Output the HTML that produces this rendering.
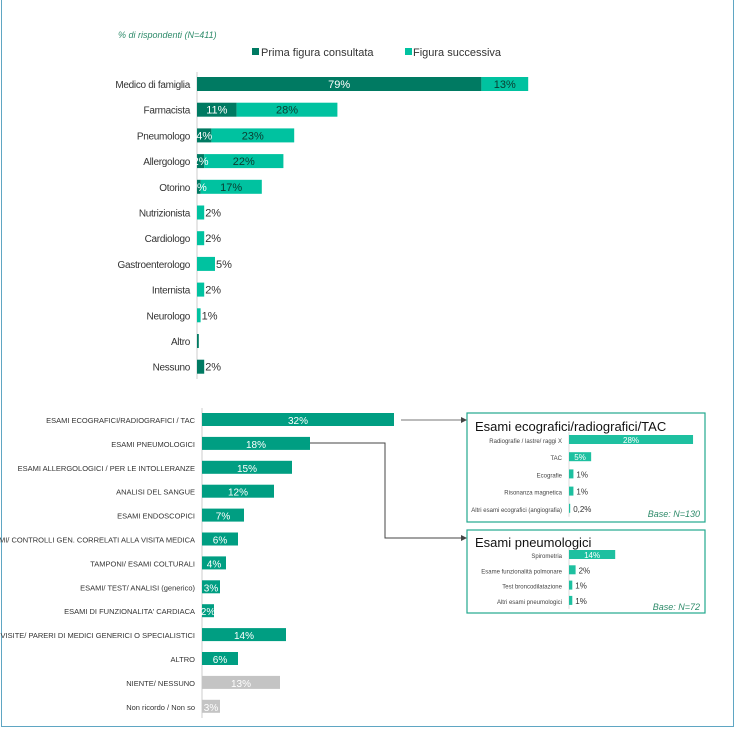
<!DOCTYPE html>
<html><head><meta charset="utf-8"><style>
body{margin:0;background:#fff;}
#wrap{position:relative;width:737px;height:730px;overflow:hidden;font-family:"Liberation Sans",sans-serif;}
#frame{position:absolute;left:1px;top:-2px;width:733px;height:729px;border:1.5px solid #5fa6c3;border-top:none;box-sizing:border-box;}
text{font-family:"Liberation Sans",sans-serif;}
</style></head><body>
<div id="wrap">
<div id="frame"></div>
<svg id="svg" width="737" height="730" style="position:absolute;left:0;top:0">
<text x="118" y="38" font-size="9" font-style="italic" fill="#2e8b6a">% di rispondenti (N=411)</text>
<rect x="252" y="48" width="7" height="7" fill="#007a62"/>
<text x="261" y="56" font-size="11" fill="#333">Prima figura consultata</text>
<rect x="405" y="48" width="7" height="7" fill="#00c2a0"/>
<text x="413" y="56" font-size="11" fill="#333">Figura successiva</text>
<line x1="197" y1="72" x2="197" y2="379" stroke="#ccc"/>
<line x1="202" y1="408" x2="202" y2="718" stroke="#ccc"/>
<rect x="467" y="413" width="238" height="109" fill="#fff" stroke="#22a88e" stroke-width="1.2"/>
<text x="475" y="431" font-size="13" fill="#111">Esami ecografici/radiografici/TAC</text>
<text x="700" y="517" font-size="9" font-style="italic" fill="#2e8b6a" text-anchor="end">Base: N=130</text>
<rect x="467" y="530" width="238" height="83" fill="#fff" stroke="#22a88e" stroke-width="1.2"/>
<text x="475" y="547" font-size="13" fill="#111">Esami pneumologici</text>
<text x="700" y="610" font-size="9" font-style="italic" fill="#2e8b6a" text-anchor="end">Base: N=72</text>
<defs><marker id="arr" markerWidth="6" markerHeight="6" refX="5" refY="3" orient="auto"><path d="M0,0 L6,3 L0,6 z" fill="#444"/></marker></defs>
<line x1="401" y1="420" x2="466" y2="420" stroke="#777" marker-end="url(#arr)"/>
<polyline points="310,443 385,443 385,538 466,538" fill="none" stroke="#444" marker-end="url(#arr)"/>
</svg>
</div>
<script>
const topCats=["Medico di famiglia","Farmacista","Pneumologo","Allergologo","Otorino","Nutrizionista","Cardiologo","Gastroenterologo","Internista","Neurologo","Altro","Nessuno"];
const topFirst=[79,11,4,2,1,0,0,0,0,0,0.5,2];
const topNext=[13,28,23,22,17,2,2,5,2,1,0,0];
const topFirstLbl=["79%","11%","4%","2%","1%","","","","","","",""];
const topNextLbl=["13%","28%","23%","22%","17%","2%","2%","5%","2%","1%","","2%"];
const botCats=["ESAMI ECOGRAFICI/RADIOGRAFICI / TAC","ESAMI PNEUMOLOGICI","ESAMI ALLERGOLOGICI / PER LE INTOLLERANZE","ANALISI DEL SANGUE","ESAMI ENDOSCOPICI","ESAMI/ CONTROLLI  GEN. CORRELATI  ALLA VISITA MEDICA","TAMPONI/ ESAMI COLTURALI","ESAMI/ TEST/ ANALISI (generico)","ESAMI DI FUNZIONALITA' CARDIACA","VISITE/ PARERI DI MEDICI GENERICI O SPECIALISTICI","ALTRO","NIENTE/ NESSUNO","Non ricordo / Non so"];
const botVals=[32,18,15,12,7,6,4,3,2,14,6,13,3];
const botGrey=[0,0,0,0,0,0,0,0,0,0,0,1,1];
const ecoCats=["Radiografie / lastre/ raggi  X","TAC","Ecografie","Risonanza magnetica","Altri esami ecografici (angiografia)"];
const ecoVals=[28,5,1,1,0.2];
const ecoLbl=["28%","5%","1%","1%","0,2%"];
const pnCats=["Spirometria","Esame funzionalità polmonare","Test broncodilatazione","Altri esami pneumologici"];
const pnVals=[14,2,1,1];
const pnLbl=["14%","2%","1%","1%"];

const svg=document.getElementById('svg');
const NS="http://www.w3.org/2000/svg";
function mk(tag,at,txt){const e=document.createElementNS(NS,tag);for(const k in at)e.setAttribute(k,at[k]);if(txt!==undefined)e.textContent=txt;svg.appendChild(e);return e;}

// top chart
const tx=v=>197+v*3.6, ty=i=>84+i*25.7;
topCats.forEach((c,i)=>{
  const y=ty(i);
  let t=mk('text',{x:190,y:y+4,'font-size':10,fill:'#333','text-anchor':'end','letter-spacing':'-0.3'},c);
  
  
  let r=mk('rect',{x:tx(0),y:y-7,width:tx(topFirst[i])-tx(0),height:14,fill:'#007a62'});
  
  
  let r2=mk('rect',{x:tx(topFirst[i]),y:y-7,width:tx(topNext[i])-tx(0),height:14,fill:'#00c2a0'});
  
  
  if(topFirstLbl[i]){let l=mk('text',{x:(tx(0)+tx(topFirst[i]))/2,y:y+4,'font-size':11,fill:'#fff','text-anchor':'middle'},topFirstLbl[i]);
    
    }
  if(topNextLbl[i]){
    const big=topNext[i]>8;
    const x=big?(tx(topFirst[i])+tx(topFirst[i]+topNext[i]))/2:tx(topFirst[i]+topNext[i])+1;
    let l=mk('text',{x:x,y:y+4,'font-size':11,fill:big?'#0b3b30':'#333','text-anchor':big?'middle':'start'},topNextLbl[i]);
    
    }
});

// bottom chart
const bx=v=>202+v*6.0, by=i=>420+i*23.9;
botCats.forEach((c,i)=>{
  const y=by(i);
  let t=mk('text',{x:195,y:y+3,'font-size':7.5,fill:'#333','text-anchor':'end'},c);
  
  
  let r=mk('rect',{x:bx(0),y:y-7,width:bx(botVals[i])-bx(0),height:13,fill:botGrey[i]?'#c4c4c4':'#009e82'});
  
  
  let l=mk('text',{x:(bx(0)+bx(botVals[i]))/2,y:y+4,'font-size':10,fill:'#fff','text-anchor':'middle'},botVals[i]+'%');
  
  
});

// panel charts
function panel(cats,vals,lbls,y0,dy,scale,name){
  mk('line',{x1:569,y1:y0-8,x2:569,y2:y0+dy*(cats.length-1)+8,stroke:'#ddd'});
  cats.forEach((c,i)=>{
    const y=y0+i*dy;
    let t=mk('text',{x:562,y:y+3,'font-size':6,fill:'#444','text-anchor':'end'},c);
    
    
    const w=Math.max(vals[i]*scale,1.2);
    let r=mk('rect',{x:569,y:y-5,width:w,height:9,fill:'#1ec0a0'});
    
    
    const inside=w>18;
    let l=mk('text',{x:inside?569+w/2:569+w+3,y:y+3,'font-size':inside?8:8,fill:inside?'#fff':'#333','text-anchor':inside?'middle':'start'},lbls[i]);
    
    
  });
}
panel(ecoCats,ecoVals,ecoLbl,440,17.2,4.43,'eco');
panel(pnCats,pnVals,pnLbl,555,15.3,3.3,'pneumo');
</script>
</body></html>
